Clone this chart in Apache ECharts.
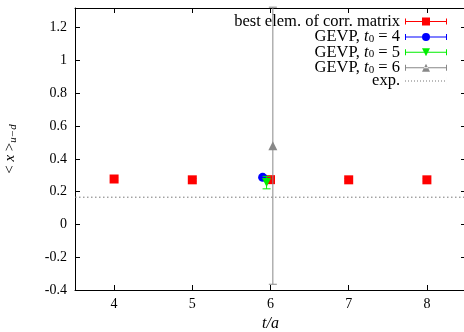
<!DOCTYPE html>
<html>
<head>
<meta charset="utf-8">
<script src="https://cdn.jsdelivr.net/npm/echarts@6/dist/echarts.min.js"></script>
<style>
  html, body { margin: 0; padding: 0; background: #fff; }
  #chart { width: 464px; height: 332px; }
</style>
</head>
<body>
<div id="chart"></div>
<script>
// values
const xTicks = [4, 5, 6, 7, 8];
const yTicks = [-0.4, -0.2, 0, 0.2, 0.4, 0.6, 0.8, 1, 1.2];

const bestX = [4, 5, 6, 7, 8];
const bestY = [0.277, 0.272, 0.273, 0.272, 0.272];
const bestErr = [0.008, 0.008, 0.008, 0.008, 0.008];

const t4X = [5.9];
const t4Y = [0.287];
const t4Err = [0.008];

const t5X = [5.95];
const t5Y = [0.255];
const t5Err = [0.038];

const t6X = [6.03];
const t6Y = [0.48];
const t6Err = [0.845];

const expValue = 0.166;
const xRange = [3.5, 8.5];
const yRange = [-0.4, 1.32];

const serif = 'Liberation Serif';

function pts(xs, ys, es) {
    return xs.map((x, i) => [x, ys[i], es[i]]);
}

function errorBars(color) {
    return function (params, api) {
        const x = api.value(0), y = api.value(1), e = api.value(2);
        const top = api.coord([x, y + e]);
        const bot = api.coord([x, y - e]);
        const half = 4;
        const st = {stroke: color, lineWidth: 1};
        return {
            type: 'group',
            children: [
                {type: 'line', shape: {x1: top[0], y1: top[1], x2: bot[0], y2: bot[1]}, style: st},
                {type: 'line', shape: {x1: top[0] - half, y1: top[1], x2: top[0] + half, y2: top[1]}, style: st},
                {type: 'line', shape: {x1: bot[0] - half, y1: bot[1], x2: bot[0] + half, y2: bot[1]}, style: st}
            ]
        };
    };
}

// legend icons: error bar line with caps + marker, box 42 x 8
const bar = 'M0,0 L0.01,0 L0.01,8 L0,8 Z M0,3.5 L42,3.5 L42,4.5 L0,4.5 Z M0,1 L1,1 L1,7 L0,7 Z M41,1 L42,1 L42,7 L41,7 Z ';
const iconSquare = 'path://' + bar + 'M17,0 L25,0 L25,8 L17,8 Z';
const iconCircle = 'path://' + bar + 'M25,4 A4,4 0 1 1 17,4 A4,4 0 1 1 25,4 Z';
const iconDown = 'path://' + bar + 'M17,0 L25,0 L21,8 Z';
const iconUp = 'path://' + bar + 'M17,8 L25,8 L21,0 Z';
let dots = 'M0,0 L0.01,0 L0.01,8 L0,8 Z M41.99,0 L42,0 L42,8 L41.99,8 Z ';
for (let d = 0; d < 40; d += 3) dots += 'M' + d + ',3.5 L' + (d + 1) + ',3.5 L' + (d + 1) + ',4.5 L' + d + ',4.5 Z ';
const iconDots = 'path://' + dots;

const myChart = echarts.init(document.getElementById('chart'), null, {renderer: 'canvas'});

const axisLine = {show: true, onZero: false, lineStyle: {color: '#000', width: 1}};

myChart.setOption({
    animation: false,
    backgroundColor: '#fff',
    grid: {left: 75, right: -2, top: 8, bottom: 42, containLabel: false, outerBoundsMode: 'none'},
    legend: {
        orient: 'vertical',
        right: 17,
        top: 13,
        padding: 0,
        align: 'right',
        itemWidth: 42,
        itemHeight: 8,
        itemGap: -3.6,
        selectedMode: false,
        textStyle: {fontFamily: serif, fontSize: 16.5, color: '#000', lineHeight: 15, rich: {
            n: {fontFamily: serif, fontSize: 16.5, lineHeight: 15, color: '#000'},
            i: {fontFamily: serif, fontSize: 16.5, lineHeight: 15, fontStyle: 'italic', color: '#000'},
            s: {fontFamily: serif, fontSize: 11, lineHeight: 8, color: '#000', verticalAlign: 'bottom', padding: [7, 0, 0, 0]}
        }},
        formatter: function (name) {
            const m = name.match(/^GEVP, t0 = (\d)$/);
            if (m) return '{n|GEVP, }{i|t}{s|0}{n| = ' + m[1] + '}';
            return '{n|' + name + '}';
        },
        data: [
            {name: 'best elem. of corr. matrix', icon: iconSquare},
            {name: 'GEVP, t0 = 4', icon: iconCircle},
            {name: 'GEVP, t0 = 5', icon: iconDown},
            {name: 'GEVP, t0 = 6', icon: iconUp},
            {name: 'exp.', icon: iconDots}
        ]
    },
    xAxis: [
        {
            type: 'value',
            min: xRange[0],
            max: xRange[1],
            axisLine: axisLine,
            axisTick: {show: true, inside: true, length: 5, customValues: xTicks, lineStyle: {color: '#000'}},
            axisLabel: {customValues: xTicks, margin: 7, fontFamily: serif, fontSize: 14, color: '#000'},
            splitLine: {show: false},
            name: 't/a',
            nameLocation: 'middle',
            nameGap: 25,
            nameTextStyle: {fontFamily: serif, fontSize: 16, fontStyle: 'italic', color: '#000'}
        },
        {
            type: 'value',
            position: 'top',
            min: xRange[0],
            max: xRange[1],
            axisLine: axisLine,
            axisTick: {show: true, inside: true, length: 5, customValues: xTicks, lineStyle: {color: '#000'}},
            axisLabel: {show: false},
            splitLine: {show: false}
        }
    ],
    yAxis: [
        {
            type: 'value',
            min: yRange[0],
            max: yRange[1],
            axisLine: axisLine,
            axisTick: {show: true, inside: true, length: 5, customValues: yTicks, lineStyle: {color: '#000'}},
            axisLabel: {customValues: yTicks, margin: 8, fontFamily: serif, fontSize: 14, color: '#000'},
            splitLine: {show: false},
            name: '{n|< }{i|x}{n| >}{s|u−d}',
            nameLocation: 'middle',
            nameRotate: 90,
            nameGap: 56,
            nameTextStyle: {rich: {
                n: {fontFamily: serif, fontSize: 15, color: '#000'},
                i: {fontFamily: serif, fontSize: 15, fontStyle: 'italic', color: '#000'},
                s: {fontFamily: serif, fontSize: 11, fontStyle: 'italic', color: '#000', verticalAlign: 'bottom', padding: [7, 0, 0, 0]}
            }}
        },
        {
            type: 'value',
            position: 'right',
            min: yRange[0],
            max: yRange[1],
            axisLine: axisLine,
            axisTick: {show: true, inside: true, length: 5, customValues: yTicks, lineStyle: {color: '#000'}},
            axisLabel: {show: false},
            splitLine: {show: false}
        }
    ],
    series: [
        {
            name: 'exp.',
            type: 'line',
            symbol: 'none',
            data: [[xRange[0], expValue], [xRange[1], expValue]],
            itemStyle: {color: '#777'},
            lineStyle: {color: '#777', width: 1, type: [1.5, 2.5]},
            z: 1
        },
        {
            name: 'best-err',
            type: 'custom',
            renderItem: errorBars('#ff0000'),
            data: pts(bestX, bestY, bestErr),
            z: 2
        },
        {
            name: 'best elem. of corr. matrix',
            type: 'scatter',
            symbol: 'rect',
            symbolSize: 9,
            data: pts(bestX, bestY, bestErr),
            itemStyle: {color: '#ff0000', opacity: 1},
            z: 2
        },
        {
            name: 't4-err',
            type: 'custom',
            renderItem: errorBars('#0000ff'),
            data: pts(t4X, t4Y, t4Err),
            z: 3
        },
        {
            name: 'GEVP, t0 = 4',
            type: 'scatter',
            symbol: 'circle',
            symbolSize: 9,
            data: pts(t4X, t4Y, t4Err),
            itemStyle: {color: '#0000ff', opacity: 1},
            z: 3
        },
        {
            name: 't5-err',
            type: 'custom',
            renderItem: errorBars('#00ee00'),
            data: pts(t5X, t5Y, t5Err),
            z: 4
        },
        {
            name: 'GEVP, t0 = 5',
            type: 'scatter',
            symbol: 'triangle',
            symbolRotate: 180,
            symbolSize: 9,
            data: pts(t5X, t5Y, t5Err),
            itemStyle: {color: '#00ee00', opacity: 1},
            z: 4
        },
        {
            name: 't6-err',
            type: 'custom',
            renderItem: errorBars('#888888'),
            data: pts(t6X, t6Y, t6Err),
            z: 5
        },
        {
            name: 'GEVP, t0 = 6',
            type: 'scatter',
            symbol: 'triangle',
            symbolSize: 9,
            data: pts(t6X, t6Y, t6Err),
            itemStyle: {color: '#888888', opacity: 1},
            z: 5
        }
    ]
});
</script>
</body>
</html>
